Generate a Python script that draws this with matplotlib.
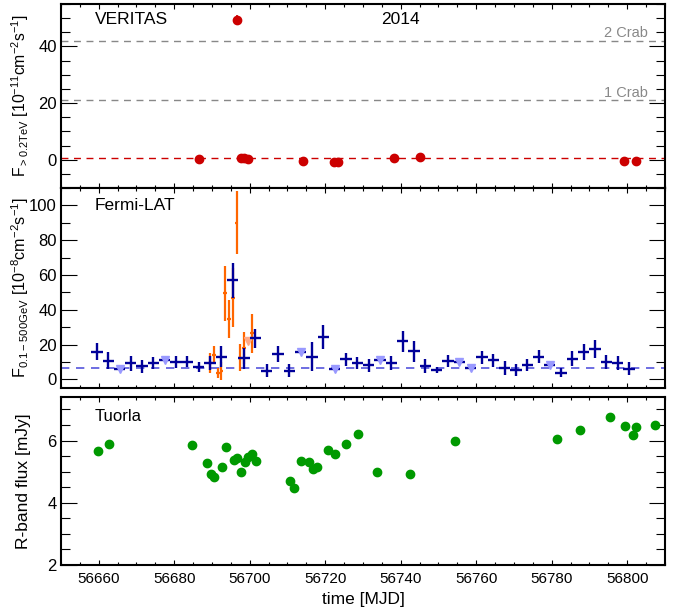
import numpy as np
import matplotlib
matplotlib.use('Agg')
import matplotlib.pyplot as plt
from matplotlib.ticker import MultipleLocator, ScalarFormatter

plt.rcParams['font.family'] = ['Liberation Sans', 'DejaVu Sans']
plt.rcParams['mathtext.default'] = 'regular'

# VERITAS (> 0.2 TeV), 1e-11 cm-2 s-1
veritas_mjd = [56686.6, 56696.6, 56697.7, 56698.5, 56699.5, 56714.1,
               56722.3, 56723.4, 56738.2, 56745.1, 56799.1, 56802.3]
veritas_flux = [0.1, 49.3, 0.5, 0.6, 0.3, -0.5, -0.8, -0.8, 0.6, 0.8, -0.3, -0.5]
veritas_err = [0.5, 1.7, 0.5, 0.5, 0.5, 0.5, 0.5, 0.5, 0.5, 0.5, 0.5, 0.5]
veritas_mean = 0.6
crab_levels = [21.0, 42.0]
crab_labels = ['1 Crab', '2 Crab']

# Fermi-LAT 3-day bins, 1e-8 cm-2 s-1
fermi_mjd = [56659.5, 56662.5, 56665.5, 56668.5, 56671.5, 56674.5, 56677.5, 56680.5,
             56683.5, 56686.5, 56689.5, 56692.5, 56695.5, 56698.5, 56701.5, 56704.5,
             56707.5, 56710.5, 56713.5, 56716.5, 56719.5, 56722.5, 56725.5, 56728.5,
             56731.5, 56734.5, 56737.5, 56740.5, 56743.5, 56746.5, 56749.5, 56752.5,
             56755.5, 56758.5, 56761.5, 56764.5, 56767.5, 56770.5, 56773.5, 56776.5,
             56779.5, 56782.5, 56785.5, 56788.5, 56791.5, 56794.5, 56797.5, 56800.5]
fermi_flux = [15.9, 10.8, 5.7, 9.2, 7.5, 9.6, 11.3, 9.8, 10.2, 7.3, 9.6, 13.1,
              57.0, 12.0, 23.5, 5.0, 14.5, 5.0, 15.5, 13.1, 24.4, 6.1, 11.6, 9.6,
              8.0, 11.2, 9.4, 21.8, 16.0, 7.7, 5.3, 10.6, 10.1, 6.3, 12.6, 10.9,
              6.5, 5.3, 8.3, 12.9, 8.1, 3.8, 11.9, 15.6, 17.2, 10.0, 9.2, 6.1]
fermi_err = [4.8, 4.8, 0, 4.2, 3.6, 3.4, 0, 3.5, 3.0, 2.9, 4.0, 5.8,
             10.0, 5.8, 5.6, 3.7, 4.8, 3.7, 0, 8.2, 6.8, 0, 3.7, 3.5,
             3.8, 0, 3.9, 6.0, 6.3, 4.0, 1.9, 3.5, 0, 0, 3.6, 3.9,
             3.9, 3.3, 3.3, 3.8, 0, 2.5, 4.1, 4.5, 5.2, 4.2, 4.0, 3.6]
fermi_ul = [0, 0, 1, 0, 0, 0, 1, 0, 0, 0, 0, 0,
            0, 0, 0, 0, 0, 0, 1, 0, 0, 1, 0, 0,
            0, 1, 0, 0, 0, 0, 0, 0, 1, 1, 0, 0,
            0, 0, 0, 0, 1, 0, 0, 0, 0, 0, 0, 0]
fermi_mean = 6.3

# Fermi-LAT 1-day bins around the flare
daily_mjd = [56689.5, 56690.5, 56691.5, 56692.5, 56693.5, 56694.5,
             56695.5, 56696.5, 56697.5, 56698.5, 56699.5, 56700.5]
daily_flux = [9.2, 14.2, 3.5, 5.0, 49.5, 34.5, 47.0, 90.0, 12.5, 18.0, 22.0, 26.4]
daily_err = [5.7, 5.2, 3.0, 5.2, 15.7, 11.0, 17.0, 18.2, 8.0, 9.0, 0, 11.0]
daily_ul = [0, 0, 0, 0, 0, 0, 0, 0, 0, 0, 1, 0]

# Tuorla R-band, mJy
tuorla_mjd = [56659.8, 56662.8, 56684.7, 56688.8, 56689.7, 56690.6, 56692.7, 56693.7,
              56695.7, 56696.7, 56697.7, 56698.7, 56699.6, 56700.6, 56701.7, 56710.7,
              56711.7, 56713.7, 56715.8, 56716.7, 56717.7, 56720.7, 56722.7, 56725.5,
              56728.7, 56733.6, 56742.5, 56754.5, 56781.4, 56787.4, 56795.4, 56799.3,
              56801.4, 56802.3, 56807.3]
tuorla_flux = [5.66, 5.88, 5.87, 5.29, 4.91, 4.82, 5.14, 5.80, 5.39, 5.44, 5.00, 5.30,
               5.47, 5.56, 5.33, 4.69, 4.46, 5.35, 5.31, 5.09, 5.16, 5.71, 5.58, 5.88,
               6.20, 4.98, 4.93, 5.99, 6.04, 6.35, 6.77, 6.48, 6.18, 6.42, 6.49]

navy = '#000099'
red = '#cc0000'
green = '#009900'
orange = '#ff6600'

fig = plt.figure(figsize=(6.83, 6.14), dpi=100)
L, W = 0.0893, 0.8843
ax1 = fig.add_axes([L, 0.6938, W, 0.2997])
ax2 = fig.add_axes([L, 0.3681, W, 0.3257])
ax3 = fig.add_axes([L, 0.0798, W, 0.2736])

for ax in (ax1, ax2, ax3):
    ax.set_xlim(56650, 56810)
    ax.xaxis.set_major_locator(MultipleLocator(20))
    ax.xaxis.set_minor_locator(MultipleLocator(5))
    ax.tick_params(which='both', direction='in', top=True, right=True, width=0.8,
                   labelsize=12, pad=3)
    ax.tick_params(axis='y', which='major', length=11.5)
    ax.tick_params(axis='y', which='minor', length=6.5)
    ax.tick_params(axis='x', which='major', length=3.8)
    ax.tick_params(axis='x', which='minor', length=2.2)
    for s in ax.spines.values():
        s.set_linewidth(1.5)
    ax.yaxis.set_label_coords(-0.05, 0.5)

ax1.tick_params(axis='x', labelbottom=False)
ax2.tick_params(axis='x', labelbottom=False)
fmt = ScalarFormatter(useOffset=False)
ax3.xaxis.set_major_formatter(fmt)
ax3.tick_params(axis='x', labelsize=11, pad=5)

# VERITAS panel
ax1.set_ylim(-10, 55)
ax1.yaxis.set_major_locator(MultipleLocator(20))
ax1.yaxis.set_minor_locator(MultipleLocator(5))
for lev, lab in zip(crab_levels, crab_labels):
    ax1.axhline(lev, color='#888888', ls=(0, (5, 4)), lw=1.0)
    ax1.text(56805.5, lev + 2.6, lab, color='#888888', fontsize=10.5,
             ha='right', va='center')
ax1.axhline(veritas_mean, color=red, ls=(0, (5, 4)), lw=1.0)
ax1.errorbar(veritas_mjd, veritas_flux, yerr=veritas_err, fmt='o', color=red,
             ms=6, elinewidth=1.2, capsize=0)
ax1.text(56659, 49.5, 'VERITAS', fontsize=12.5, ha='left', va='center')
ax1.text(56740, 49.5, '2014', fontsize=12.5, ha='center', va='center')
ax1.set_ylabel('F$_{>0.2TeV}$ [10$^{-11}$cm$^{-2}$s$^{-1}$]', fontsize=11.3)

# Fermi-LAT panel
ax2.set_ylim(-5, 110)
ax2.yaxis.set_major_locator(MultipleLocator(20))
ax2.yaxis.set_minor_locator(MultipleLocator(10))
ax2.axhline(fermi_mean, color='#5555dd', ls=(0, (5, 4)), lw=1.2)

fm = np.array(fermi_mjd)
ff = np.array(fermi_flux)
fe = np.array(fermi_err)
ful = np.array(fermi_ul, dtype=bool)
dm = np.array(daily_mjd)
df_ = np.array(daily_flux)
de = np.array(daily_err)
dul = np.array(daily_ul, dtype=bool)

ax2.errorbar(dm[~dul], df_[~dul], yerr=de[~dul], xerr=0.5, fmt='none',
             ecolor=orange, elinewidth=1.6, capsize=0, zorder=2)
ax2.plot(dm[dul], df_[dul], 'v', color='#ffaa88', ms=6, zorder=2)
ax2.errorbar(fm[~ful], ff[~ful], yerr=fe[~ful], xerr=1.5, fmt='none',
             ecolor=navy, elinewidth=1.7, capsize=0, zorder=3)
ax2.errorbar(fm[ful], ff[ful], xerr=1.5, fmt='none',
             ecolor=navy, elinewidth=1.7, capsize=0, zorder=3)
ax2.plot(fm[ful], ff[ful], 'v', color='#9999ff', ms=6, zorder=4)
ax2.text(56659, 100, 'Fermi-LAT', fontsize=12.5, ha='left', va='center')
ax2.set_ylabel('F$_{0.1-500GeV}$ [10$^{-8}$cm$^{-2}$s$^{-1}$]', fontsize=11.6)

# Tuorla panel
ax3.set_ylim(2, 7.4)
ax3.yaxis.set_major_locator(MultipleLocator(2))
ax3.yaxis.set_minor_locator(MultipleLocator(0.5))
ax3.plot(tuorla_mjd, tuorla_flux, 'o', color=green, ms=6)
ax3.text(56659, 6.77, 'Tuorla', fontsize=12, ha='left', va='center')
ax3.set_ylabel('R-band flux [mJy]', fontsize=12.5)
ax3.set_xlabel('time [MJD]', fontsize=12.5, labelpad=4)

fig.savefig('out.png', dpi=100)
